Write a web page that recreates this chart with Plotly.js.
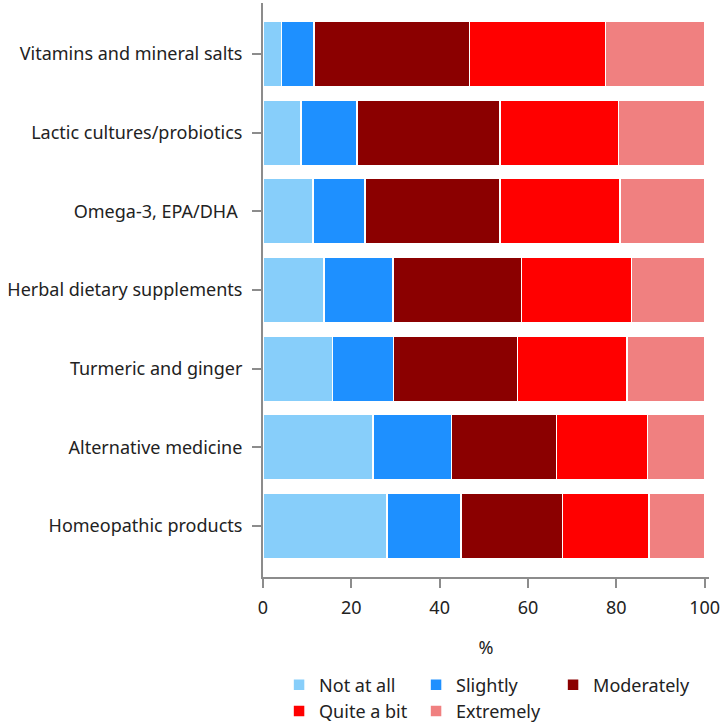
<!DOCTYPE html>
<html>
<head>
<meta charset="utf-8">
<script src="https://cdn.plot.ly/plotly-3.0.1.min.js"></script>
<style>html,body{margin:0;padding:0;background:#fff}#chart{width:726px;height:726px}</style>
</head>
<body>
<div id="chart"></div>
<script>
const categories = ["Vitamins and mineral salts","Lactic cultures/probiotics","Omega-3, EPA/DHA ","Herbal dietary supplements","Turmeric and ginger","Alternative medicine","Homeopathic products"];
const seriesNames = ["Not at all","Slightly","Moderately","Quite a bit","Extremely"];
const notAtAll   = [4.2, 8.6, 11.3, 13.8, 15.7, 24.9, 28.1];
const slightly   = [7.4, 12.7, 11.8, 15.6, 13.8, 17.8, 16.7];
const moderately = [35.2, 32.4, 30.6, 29.1, 28.1, 23.8, 23.0];
const quiteABit  = [30.8, 26.8, 27.1, 25.0, 24.8, 20.6, 19.6];
const extremely  = [22.4, 19.5, 19.2, 16.5, 17.6, 12.9, 12.6];
const xTicks = [0, 20, 40, 60, 80, 100];
const colors = ["#87CEFA","#1E90FF","#8B0000","#FF0000","#F08080"];

const values = [notAtAll, slightly, moderately, quiteABit, extremely];
const traces = values.map((v, i) => ({
  type: "bar",
  orientation: "h",
  name: seriesNames[i],
  x: v,
  y: categories,
  marker: {color: colors[i], line: {color: "#ffffff", width: 1.5}},
  hoverinfo: "x+name"
}));

const font = {family: "Noto Sans, Open Sans, sans-serif", size: 18, color: "#222"};
const layout = {
  width: 726, height: 726,
  paper_bgcolor: "#fff", plot_bgcolor: "#fff",
  font: font,
  barmode: "stack",
  bargap: 0.17,
  margin: {l: 263, r: 17, t: 3, b: 149, autoexpand: false},
  xaxis: {
    range: [0, 101], tickvals: xTicks, ticktext: xTicks.map(String),
    showgrid: false, zeroline: false,
    showline: true, linecolor: "#8c8c8c", linewidth: 2,
    ticks: "outside", ticklen: 9, tickwidth: 2, tickcolor: "#8c8c8c",
    tickfont: font, ticklabelstandoff: 4,
    title: {text: "%", font: font, standoff: 24}
  },
  yaxis: {
    type: "category",
    range: [6.65, -0.65],
    showgrid: false, zeroline: false,
    showline: true, linecolor: "#8c8c8c", linewidth: 2,
    ticks: "outside", ticklen: 9, tickwidth: 2, tickcolor: "#8c8c8c",
    tickfont: font, ticklabelstandoff: 6
  },
  legend: {
    orientation: "h", x: 0.036, xanchor: "left",
    yref: "container", y: 0.082, yanchor: "top",
    entrywidth: 92, entrywidthmode: "pixels",
    font: font, traceorder: "normal", itemclick: false
  },
  showlegend: true
};
Plotly.newPlot("chart", traces, layout, {displayModeBar: false, staticPlot: true});
</script>
</body>
</html>
